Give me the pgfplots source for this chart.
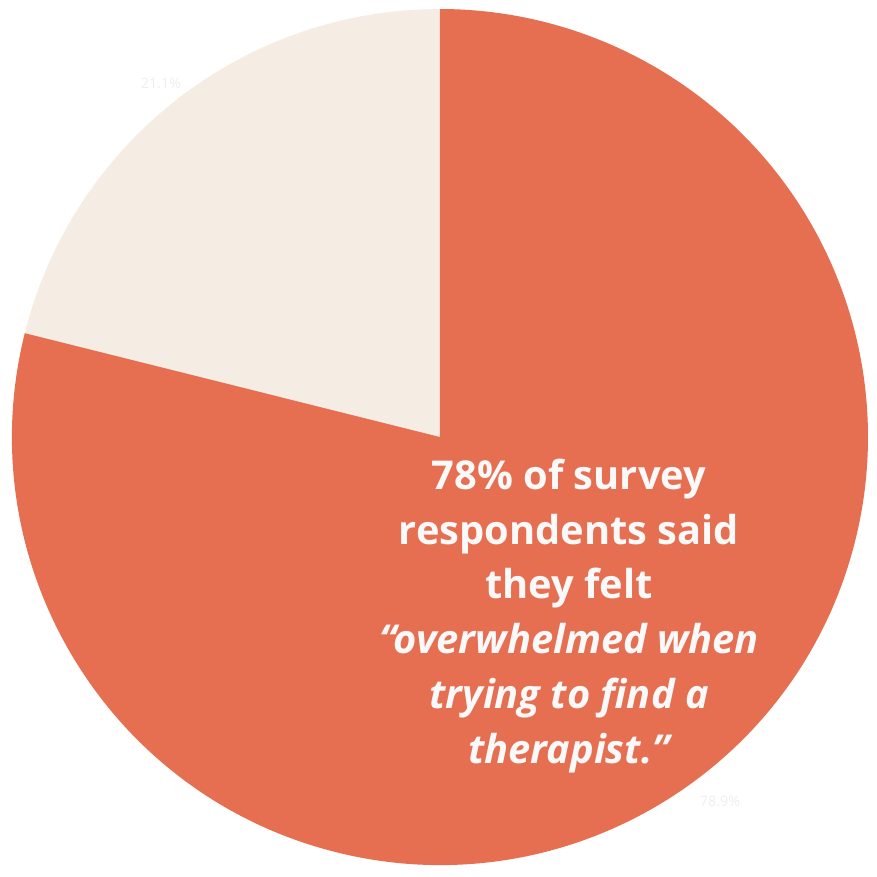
\documentclass[border=0pt]{standalone}
\usepackage{fontspec}
\setmainfont{Open Sans}
\usepackage{pgfplots}
\usepackage{pgfplotstable}
\pgfplotsset{compat=1.18}
\definecolor{orangeS}{RGB}{230,111,82}
\definecolor{beigeS}{RGB}{245,237,228}
\definecolor{txtW}{RGB}{249,249,249}
\definecolor{lblG}{RGB}{238,238,238}
\pgfplotstableread{
label value
a 21.1
b 78.9
}\piedata
\begin{document}
\begin{tikzpicture}
\pgfplotstablegetelem{0}{value}\of\piedata
\pgfmathsetmacro\angA{90+3.6*\pgfplotsretval}
\def\pieR{5.8563cm}
\begin{axis}[width=12cm,height=12cm,scale only axis,xmin=0,xmax=877,ymin=0,ymax=877,hide axis,clip=false,at={(0,0)},anchor=south west]
\fill[beigeS] (axis cs:440,440) -- ++(90:\pieR) arc[start angle=90,end angle=\angA,radius=\pieR] -- cycle;
\fill[orangeS] (axis cs:440,440) -- ++(\angA:\pieR) arc[start angle=\angA,end angle=450,radius=\pieR] -- cycle;
\node[text=lblG,font=\fontsize{5.6}{7}\selectfont] at (axis cs:161,794) {21.1\%};
\node[text=lblG,font=\fontsize{5.6}{7}\selectfont] at (axis cs:720,76) {78.9\%};
\node[text=txtW,align=center,font=\bfseries\fontsize{15.5}{21.4}\selectfont] at (axis cs:569,261) {78\% of survey\\respondents said\\they felt\\{\itshape “overwhelmed when}\\{\itshape trying to find a}\\{\itshape therapist.”}};
\end{axis}
\pgfresetboundingbox
\useasboundingbox (0,0) rectangle (12cm,12cm);
\end{tikzpicture}
\end{document}
